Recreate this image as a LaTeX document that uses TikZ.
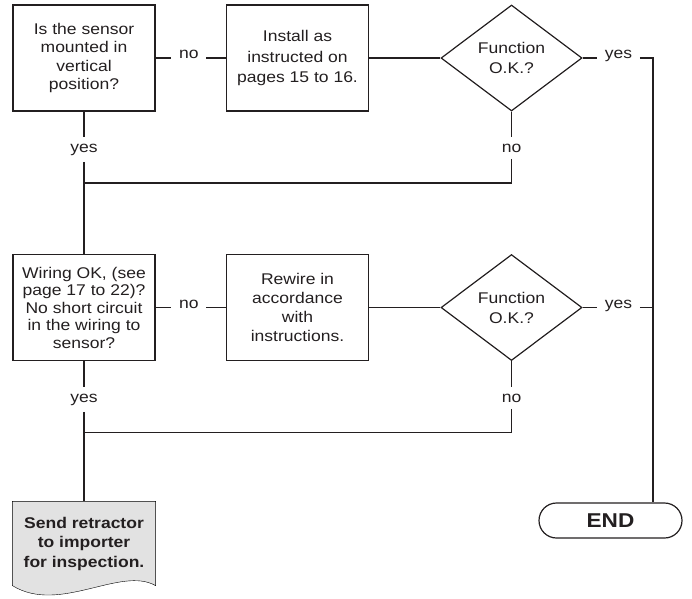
\documentclass[tikz,border=0pt]{standalone}
\usepackage{fontspec}
\setmainfont{Liberation Sans}[FakeStretch=1.13]
\usetikzlibrary{shapes.geometric,shapes.misc,backgrounds}
\definecolor{ink}{HTML}{231F20}
\definecolor{paper}{HTML}{E2E2E2}

\begin{document}
\begin{tikzpicture}[x=1pt, y=-1pt, line width=1.2pt, color=ink,
  txt/.style={font=\fontsize{15.5}{#1}\selectfont, align=center},
  txt/.default=18.5,
  box/.style={draw, rectangle, minimum width=142pt, minimum height=106pt, inner sep=0pt, txt},
  test/.style={draw, diamond, aspect=1.33, minimum width=141pt, minimum height=106pt, inner sep=0pt, txt=20},
  lbl/.style={anchor=base, inner xsep=7pt, inner ysep=6pt, txt},
  doc/.style={rectangle, minimum width=142pt, minimum height=83pt, inner sep=0pt, align=center,
    font=\bfseries\fontsize{15.5}{19.5}\selectfont},
  stop/.style={draw, rounded rectangle, minimum width=143pt, minimum height=35pt, inner sep=0pt,
    font=\bfseries\fontsize{20}{24}\selectfont}]
\path[use as bounding box] (0,0) rectangle (692,598);

\node[box] (q1) at (84,58) {Is the sensor\\mounted in\\vertical\\position?};
\node[box, txt=20.7] (inst) at (297.5,58) {Install as\\instructed on\\pages 15 to 16.};
\node[test] (f1) at (511.5,58) {Function\\O.K.?};

\node[box, txt=17.5] (q2) at (84,307.5) {Wiring OK, (see\\page 17 to 22)?\\No short circuit\\in the wiring to\\sensor?};
\node[box, txt=19] (rew) at (297.5,307.5) {Rewire in\\accordance\\with\\instructions.};
\node[test] (f2) at (511.5,307.5) {Function\\O.K.?};

\node[doc] (send) at (84,543.5) {Send retractor\\to importer\\for inspection.};
\node[stop] (endn) at (610.5,520.5) {END};

\node[lbl] (noA) at (188.75,58.5) {no};
\node[lbl] (yesA) at (618.6,58.5) {yes};
\node[lbl] (yesB) at (84,152) {yes};
\node[lbl] (noB) at (511.5,152) {no};
\node[lbl] (noC) at (188.75,308) {no};
\node[lbl] (yesC) at (618.6,308) {yes};
\node[lbl] (yesD) at (84,402) {yes};
\node[lbl] (noD) at (511.5,402) {no};

\coordinate (j1) at (84,183);
\coordinate (j2) at (84,432.5);
\coordinate (rr) at (653,58);

\begin{scope}[on background layer]
\path[draw, fill=paper] (send.south west) -- (send.north west) -- (send.north east) -- (send.south east)
  .. controls +(-35,-20) and +(47,29) .. (send.south west) -- cycle;
\end{scope}

\draw (q1) -- (q1 -| noA.west);
\draw (noA.east |- inst) -- (inst);
\draw (inst) -- (f1);
\draw (f1) -- (f1 -| yesA.west);
\draw (yesA.east |- f1) -- (rr) -- (rr |- endn.north);
\draw (q1) -- (yesB) -- (q2);
\draw (f1) -- (noB) |- (j1);

\draw (q2) -- (q2 -| noC.west);
\draw (noC.east |- rew) -- (rew);
\draw (rew) -- (f2);
\draw (f2) -- (f2 -| yesC.west);
\draw (yesC.east |- f2) -- (rr |- f2);
\draw (q2) -- (yesD) -- (send);
\draw (f2) -- (noD) |- (j2);
\end{tikzpicture}
\end{document}
